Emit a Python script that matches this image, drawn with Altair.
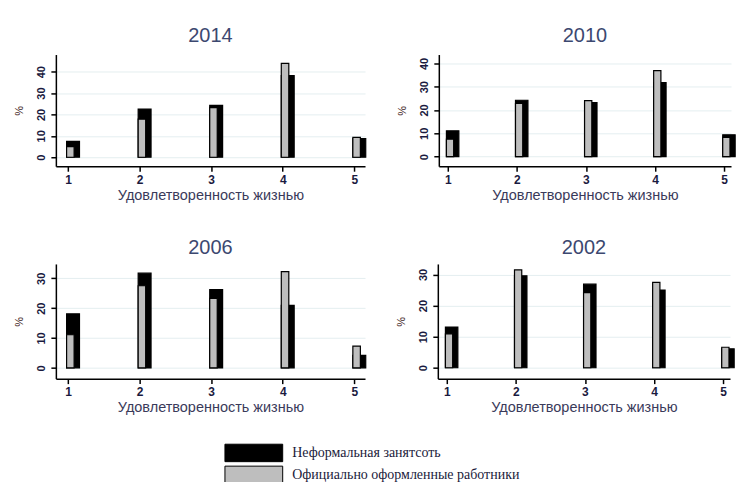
import altair as alt
import pandas as pd

years = ["2014", "2010", "2006", "2002"]
satisfaction = [1, 2, 3, 4, 5]
series_names = ["Неформальная занятсоть", "Официально оформленные работники"]
bar_colors = ["#000000", "#bebebe"]

informal_2014 = [7.4, 22.5, 24.2, 38.1, 8.7]
official_2014 = [5.0, 17.8, 23.2, 43.9, 9.3]
informal_2010 = [11.1, 24.2, 23.2, 31.8, 9.4]
official_2010 = [7.5, 22.8, 24.0, 36.9, 8.3]
informal_2006 = [18.1, 31.7, 26.2, 20.9, 4.2]
official_2006 = [11.1, 27.5, 23.3, 32.2, 7.3]
informal_2002 = [13.1, 29.6, 26.9, 25.0, 6.1]
official_2002 = [10.9, 31.5, 24.2, 27.5, 6.6]

y_ticks_tall = [0, 10, 20, 30, 40]
y_ticks_short = [0, 10, 20, 30]

informal = [informal_2014, informal_2010, informal_2006, informal_2002]
official = [official_2014, official_2010, official_2006, official_2002]

rows = []
for yr, inf, off in zip(years, informal, official):
    for c, v in zip(satisfaction, inf):
        rows.append({"year": yr, "cat": c, "series": series_names[0], "k": 0, "value": v})
    for c, v in zip(satisfaction, off):
        rows.append({"year": yr, "cat": c, "series": series_names[1], "k": 1, "value": v})
df = pd.DataFrame(rows)

legend = alt.Legend(
    orient="none", direction="vertical", legendX=189, legendY=390, title=None,
    symbolType="M-3.31,-1H3.31V1H-3.31Z", symbolSize=306,
    symbolStrokeColor="black", symbolStrokeWidth=1, symbolOpacity=1,
    labelFont="Liberation Serif", labelFontSize=14, labelColor="#1a1a3a",
    labelLimit=0, rowPadding=-1, labelOffset=29, padding=0,
)


def panel(year, xdom, ydom, yticks, w, h, toff):
    base = (
        alt.Chart(df)
        .transform_filter(alt.datum.year == year)
        .transform_calculate(
            xs="datum.cat + (datum.k == 0 ? -0.02 : -0.02)",
            xe="datum.cat + (datum.k == 0 ? 0.16 : 0.085)",
            zero="0",
        )
        .mark_bar(stroke="black", strokeWidth=1.2, opacity=1)
        .encode(
            x=alt.X("xs:Q", scale=alt.Scale(domain=xdom, nice=False, zero=False),
                    axis=alt.Axis(values=satisfaction, format="d", title="Удовлетворенность жизнью", grid=False)),
            x2="xe:Q",
            y=alt.Y("value:Q", scale=alt.Scale(domain=ydom, nice=False, zero=False),
                    axis=alt.Axis(values=yticks, title="%", grid=True)),
            y2="zero:Q",
            fill=alt.Fill("series:N", scale=alt.Scale(domain=series_names, range=bar_colors), legend=legend),
        )
    )
    black = base.transform_filter(alt.datum.k == 0)
    gray = base.transform_filter(alt.datum.k == 1)
    return alt.layer(black, gray).properties(
        width=w, height=h, title=alt.TitleParams(text=year, offset=toff)
    )


top = alt.hconcat(
    panel("2014", [0.83, 5.15], [-4.2, 48], y_ticks_tall, 310, 112, 9),
    panel("2010", [0.87, 5.1], [-4.1, 43.8], y_ticks_tall, 293, 112, 9),
    spacing=29,
).resolve_scale(x="independent", y="independent", fill="shared")
bottom = alt.hconcat(
    panel("2006", [0.83, 5.15], [-3.6, 34.8], y_ticks_short, 310, 115, 6),
    panel("2002", [0.87, 5.1], [-3.5, 33.4], y_ticks_short, 293, 115, 6),
    spacing=29,
).resolve_scale(x="independent", y="independent", fill="shared")

chart = (
    alt.vconcat(top, bottom, spacing=36)
    .resolve_scale(x="independent", y="independent", fill="shared")
    .properties(padding={"left": 6, "top": 17, "right": 0, "bottom": 0})
    .configure_view(stroke=None)
    .configure_axis(
        domainColor="black", domainWidth=1.5, tickColor="black", tickWidth=1.5, tickSize=5,
        labelColor="#1a1a40", labelFont="Liberation Sans", titleFont="Liberation Sans",
        gridColor="#e4eef0", titleFontWeight="normal", labelFontWeight="bold",
    )
    .configure_axisX(labelFontSize=12, titleFontSize=14.5, titleColor="#3a3a5a", labelPadding=3, titlePadding=3)
    .configure_axisY(labelFontSize=11, labelAngle=270, titleFontSize=11, titleColor="#3a1a1a", labelPadding=4, titlePadding=11)
    .configure_title(font="Liberation Sans", fontSize=20, color="#3c4870", fontWeight="normal")
)

chart.save("out.html", embed_options={"renderer": "svg", "actions": False})
